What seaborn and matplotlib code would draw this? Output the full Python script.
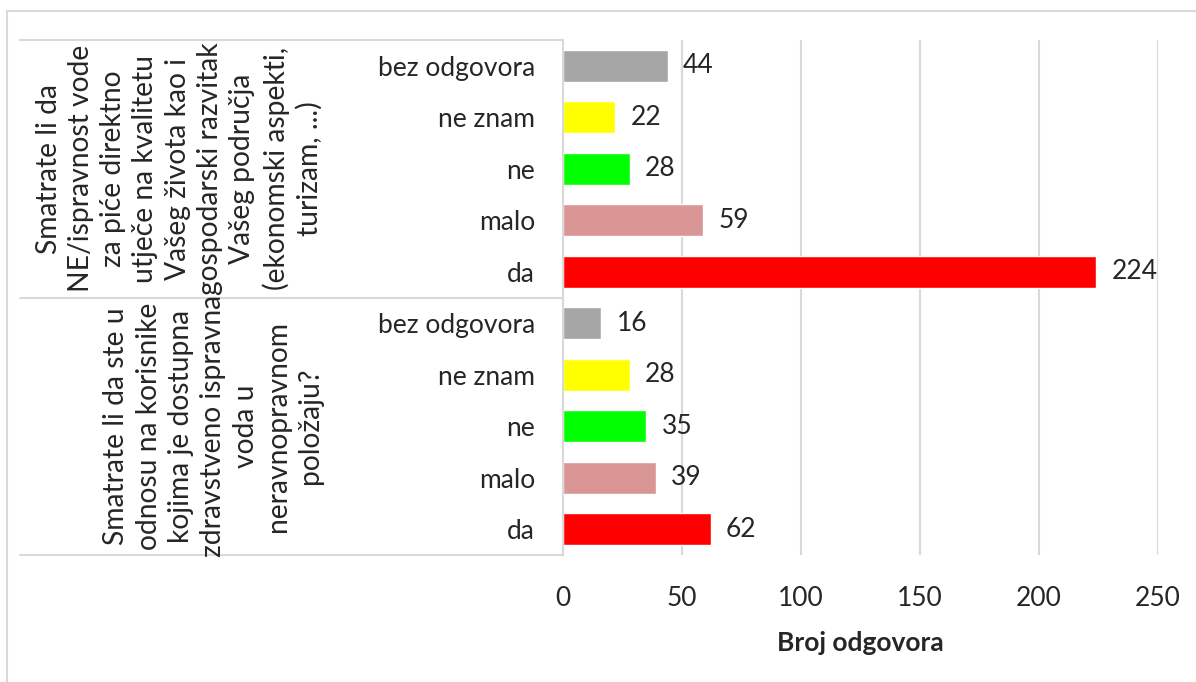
import pandas as pd
import numpy as np
import matplotlib.pyplot as plt
import matplotlib.patches as mpatches
import seaborn as sns

# answers shown in each question block (top to bottom)
responses = ['bez odgovora', 'ne znam', 'ne', 'malo', 'da']
colors = ['#A6A6A6', '#FFFF00', '#00FF00', '#D99694', '#FF0000']

q1_label = ('Smatrate li da\nNE/ispravnost vode\nza piće direktno\nutječe na kvalitetu\n'
            'Vašeg života kao i\ngospodarski razvitak\nVašeg područja\n(ekonomski aspekti,\nturizam, ...)')
q1_values = [44, 22, 28, 59, 224]

q2_label = ('Smatrate li da ste u\nodnosu na korisnike\nkojima je dostupna\nzdravstveno ispravna\n'
            'voda u\nneravnopravnom\npoložaju?')
q2_values = [16, 28, 35, 39, 62]

x_ticks = [0, 50, 100, 150, 200, 250]

sns.set_style('white')
plt.rcParams['font.family'] = ['Lato', 'DejaVu Sans']

rows = []
for qi, vals in enumerate([q1_values, q2_values]):
    for r, v in zip(responses, vals):
        rows.append({'key': f'{qi}_{r}', 'answer': r, 'count': v})
df = pd.DataFrame(rows)
palette = {row['key']: colors[responses.index(row['answer'])] for row in rows}

fig = plt.figure(figsize=(11.96, 6.82), dpi=100)
ax = fig.add_axes([563 / 1196, 1 - 555 / 682, 595 / 1196, 515 / 682])

sns.barplot(data=df, x='count', y='key', hue='key', palette=palette, orient='h',
            width=0.62, legend=False, saturation=1, ax=ax)

fs = 19
ax.set_xlim(0, 250)
ax.set_ylim(len(df) - 0.5, -0.5)
ax.set_xticks(x_ticks)
ax.set_xticklabels([str(t) for t in x_ticks], fontsize=fs)
ax.set_yticks(range(len(df)))
ax.set_yticklabels(df['answer'], fontsize=fs)
ax.tick_params(axis='both', length=0)
ax.tick_params(axis='y', pad=20)
ax.tick_params(axis='x', pad=22)
ax.set_ylabel('')
ax.set_xlabel('Broj odgovora', fontsize=fs, fontweight='bold', labelpad=15)

ax.grid(axis='x', color='#D9D9D9', linewidth=1.5)
ax.set_axisbelow(True)
for s in ['top', 'right', 'bottom']:
    ax.spines[s].set_visible(False)
ax.spines['left'].set_color('#D9D9D9')
ax.spines['left'].set_linewidth(1.5)

# value labels
for i, v in enumerate(df['count']):
    ax.text(v + 6.5, i, str(v), va='center', ha='left', fontsize=fs)

# group separators and group labels
ytr = ax.get_yaxis_transform()
for yb in [-0.5, 4.5, 9.5]:
    ax.plot([-0.913, 0], [yb, yb], transform=ytr, color='#D9D9D9', lw=1.5, clip_on=False)
for yc, lab in [(2, q1_label), (7, q2_label)]:
    ax.text(-0.403, yc, lab, transform=ytr, rotation=90, ha='right', va='center',
            multialignment='center', fontsize=20.3, linespacing=1.3)

# chart frame
fig.patches.append(mpatches.Rectangle((7 / 1196, -0.1), 1.2, 1.1 - 11 / 682, fill=False,
                                      edgecolor='#D9D9D9', lw=1.5, transform=fig.transFigure))

fig.savefig('out.png', dpi=100)
